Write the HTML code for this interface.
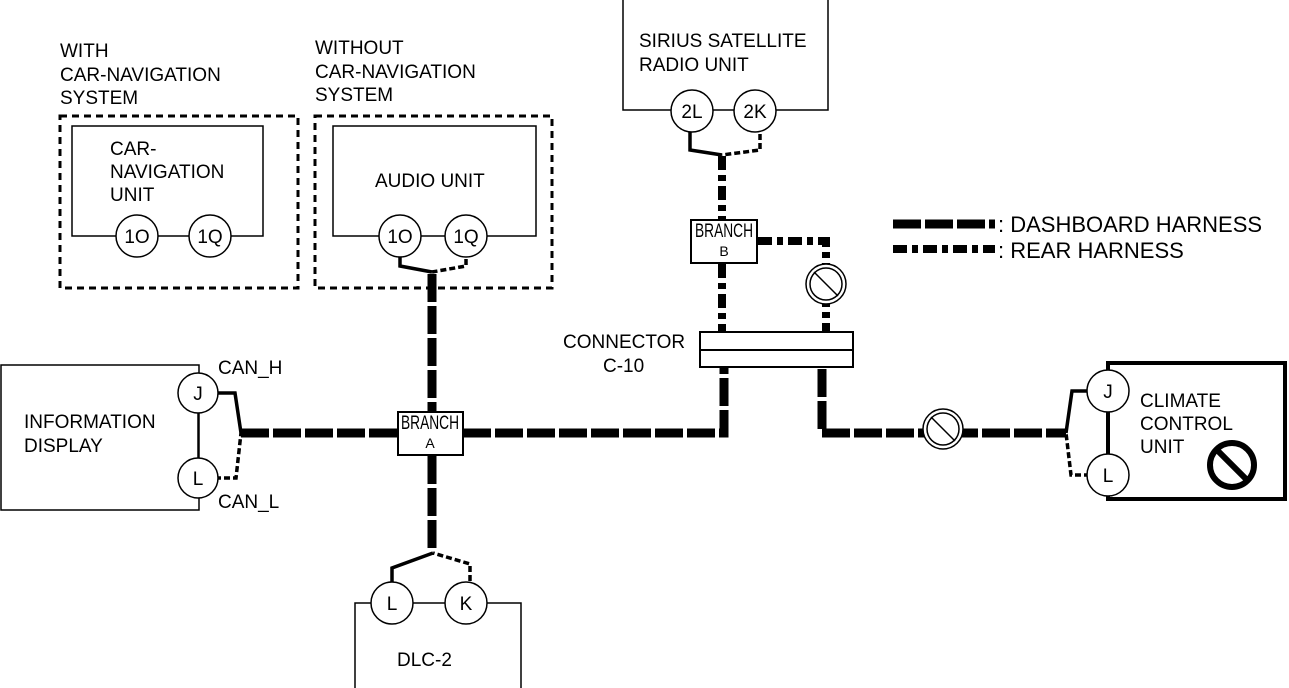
<!DOCTYPE html>
<html><head><meta charset="utf-8"><style>
html,body{margin:0;padding:0;background:#fff}
svg{display:block}
text{font-family:"Liberation Sans",sans-serif;fill:#000;font-size:19px}
</style></head><body>
<svg width="1289" height="688" viewBox="0 0 1289 688">
<g fill="none" stroke="#000">
<rect x="60" y="116" width="238" height="172" stroke-width="3" stroke-dasharray="7 5"/>
<rect x="315" y="116" width="237" height="172" stroke-width="3" stroke-dasharray="7 5"/>
<rect x="72" y="126" width="191" height="110" stroke-width="1.5"/>
<rect x="333" y="126" width="203" height="110" stroke-width="1.5"/>
<rect x="623" y="-2" width="205" height="112" stroke-width="1.5"/>
<rect x="1" y="365" width="198" height="145" stroke-width="1.5"/>
<rect x="355" y="603" width="166" height="88" stroke-width="1.5"/>
<rect x="1108" y="363" width="177" height="136" stroke-width="4"/>
<line x1="198" y1="393" x2="198" y2="478" stroke-width="1.5"/>
<line x1="1108" y1="391" x2="1108" y2="475" stroke-width="4"/>
<polyline points="400,250 400,266 432,272" stroke-width="3.5"/>
<polyline points="466,250 466,266 432,272" stroke-width="3.5" stroke-dasharray="6 3"/>
<polyline points="690,125 690,150 722,155" stroke-width="3.5"/>
<polyline points="760,125 760,150 722,155" stroke-width="3.5" stroke-dasharray="6 3"/>
<polyline points="392,590 392,568 433,553" stroke-width="3.5"/>
<polyline points="470,590 470,564 433,553" stroke-width="3.5" stroke-dasharray="6 3"/>
<polyline points="215,393 235,393 241,433" stroke-width="3.5"/>
<polyline points="215,478 236,478 241,433" stroke-width="3.5" stroke-dasharray="6 3"/>
<polyline points="1090,391 1072,391 1066,433" stroke-width="3.5"/>
<polyline points="1090,475 1071,475 1066,433" stroke-width="3.5" stroke-dasharray="6 3"/>
<g stroke-width="9" stroke-dasharray="28 4">
<line x1="241" y1="433" x2="398" y2="433"/>
<polyline points="463,433 724,433 724,368"/>
<polyline points="822,369 822,433 1066,433"/>
<line x1="432" y1="274" x2="432" y2="412"/>
<line x1="432" y1="456" x2="432" y2="552"/>
<line x1="893" y1="224" x2="995" y2="224"/>
</g>
<g stroke-width="8" stroke-dasharray="14 5 6 5">
<line x1="722" y1="156" x2="722" y2="220"/>
<line x1="722" y1="264" x2="722" y2="332"/>
<polyline points="758,241 826,241 826,332"/>
<line x1="893" y1="249" x2="995" y2="249"/>
</g>
</g>
<g fill="#fff" stroke="#000">
<rect x="398" y="412" width="65" height="43" stroke-width="2"/>
<rect x="691" y="220" width="66" height="43" stroke-width="2"/>
<rect x="700" y="332" width="153" height="35" stroke-width="2"/>
</g>
<line x1="700" y1="350" x2="853" y2="350" stroke="#000" stroke-width="2"/>
<g fill="#fff" stroke="#000" stroke-width="1.5">
<circle cx="137" cy="236" r="21"/><circle cx="210" cy="236" r="21"/>
<circle cx="400" cy="236" r="21"/><circle cx="466" cy="236" r="21"/>
<circle cx="692" cy="111" r="21"/><circle cx="755" cy="111" r="21"/>
<circle cx="198" cy="393" r="20"/><circle cx="198" cy="478" r="20"/>
<circle cx="392" cy="603" r="21"/><circle cx="466" cy="603" r="21"/>
<circle cx="1108" cy="391" r="21"/><circle cx="1108" cy="475" r="21"/>
</g>
<g fill="#fff" stroke="#000" stroke-width="1.5">
<circle cx="826" cy="284" r="20"/><circle cx="826" cy="284" r="16"/>
<line x1="814" y1="272" x2="838" y2="296"/>
<circle cx="943" cy="429" r="20"/><circle cx="943" cy="429" r="16"/>
<line x1="931" y1="417" x2="955" y2="441"/>
</g>
<circle cx="1232" cy="465" r="22" fill="none" stroke="#000" stroke-width="6"/>
<line x1="1217" y1="450" x2="1247" y2="480" stroke="#000" stroke-width="6"/>
<text x="60" y="57">WITH</text><text x="60" y="81">CAR-NAVIGATION</text><text x="60" y="104">SYSTEM</text>
<text x="315" y="54">WITHOUT</text><text x="315" y="78">CAR-NAVIGATION</text><text x="315" y="101">SYSTEM</text>
<text x="110" y="155">CAR-</text><text x="110" y="178">NAVIGATION</text><text x="110" y="201">UNIT</text>
<text x="375" y="187">AUDIO UNIT</text>
<text x="639" y="47">SIRIUS SATELLITE</text><text x="639" y="71">RADIO UNIT</text>
<text x="24" y="428">INFORMATION</text><text x="24" y="452">DISPLAY</text>
<text x="218" y="374">CAN_H</text><text x="218" y="508">CAN_L</text>
<text x="563" y="348">CONNECTOR</text><text x="603" y="372">C-10</text>
<text x="397" y="666">DLC-2</text>
<text x="1140" y="407">CLIMATE</text><text x="1140" y="430">CONTROL</text><text x="1140" y="453">UNIT</text>
<text x="998" y="232" style="font-size:22px">: DASHBOARD HARNESS</text>
<text x="998" y="258" style="font-size:22px">: REAR HARNESS</text>
<g text-anchor="middle" style="font-size:19px">
<text x="137" y="243">1O</text><text x="210" y="243">1Q</text>
<text x="400" y="243">1O</text><text x="466" y="243">1Q</text>
<text x="692" y="118">2L</text><text x="755" y="118">2K</text>
<text x="198" y="400">J</text><text x="198" y="485">L</text>
<text x="392" y="610">L</text><text x="466" y="610">K</text>
<text x="1108" y="398">J</text><text x="1108" y="482">L</text>
</g>
<g text-anchor="middle" style="font-size:12px">
<text x="430" y="429" textLength="58" lengthAdjust="spacingAndGlyphs">BRANCH</text><text x="430" y="448" style="font-size:14px">A</text>
<text x="724" y="237" textLength="58" lengthAdjust="spacingAndGlyphs">BRANCH</text><text x="724" y="256" style="font-size:14px">B</text>
</g>
</svg>
</body></html>
